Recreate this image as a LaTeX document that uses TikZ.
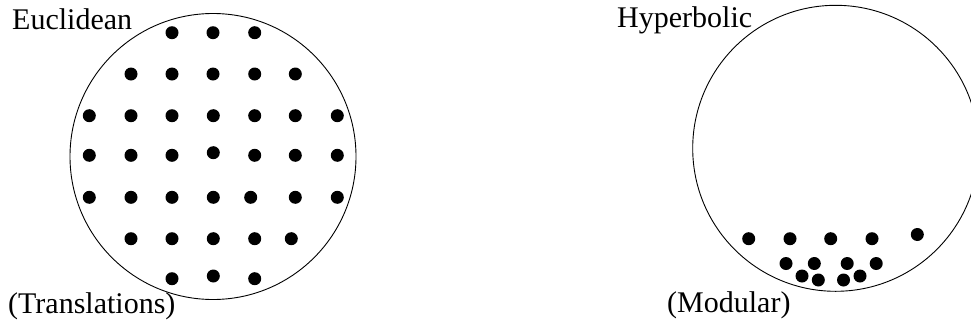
\documentclass[tikz,border=0pt]{standalone}
\usepackage{fontspec}
\setmainfont{Liberation Serif}
\begin{document}
\begin{tikzpicture}[x=1pt,y=-1pt,
  lbl/.style={inner sep=0pt,anchor=base west,font=\fontsize{30}{36}\selectfont},
  disc/.style={line width=0.9pt}]
\useasboundingbox (0,0) rectangle (971,327);
% Euclidean disc
\draw[disc] (213,156.5) circle[radius=143];
\foreach \x/\y in {172/32.7,213/32.7,254.7/32.7,
  131/74,172/74,213/74,254.7/74,295.3/74,
  89.3/115.7,131/115.7,172/115.7,213.3/115.7,254.7/115.7,295.3/115.7,337.3/115.7,
  89.3/155.3,131/155.3,172/155.3,213.3/152.7,254.7/155.3,295.3/155.3,337.3/155.3,
  89.3/197.3,131/197.3,172/197.3,213.3/197.3,250.7/197.3,295.3/197.3,337.3/197.3,
  131/238.7,172/238.7,213.3/238.7,254.7/238.7,291.3/238.7,
  172/278.7,213.3/276,254.7/278.7}
  \fill (\x,\y) circle[radius=6.5];
\node[lbl] (euc) at (12,29.3) {Euclidean};
\node[lbl] (tra) at (8,313.5) {(Translations)};
% Hyperbolic disc
\draw[disc] (835.7,148.3) circle[radius=143];
\foreach \x/\y in {748.7/238.7,790/238.7,830.7/238.7,872/238.7,917.3/234.5,
  786/263.5,814.3/263.5,847.2/263.5,876.2/263.5,
  802/276,818.3/280,843.5/280,860/276}
  \fill (\x,\y) circle[radius=6.5];
\node[lbl] (hyp) at (617,27.3) {Hyperbolic};
\node[lbl] (mod) at (667,312.5) {(Modular)};
\end{tikzpicture}
\end{document}
